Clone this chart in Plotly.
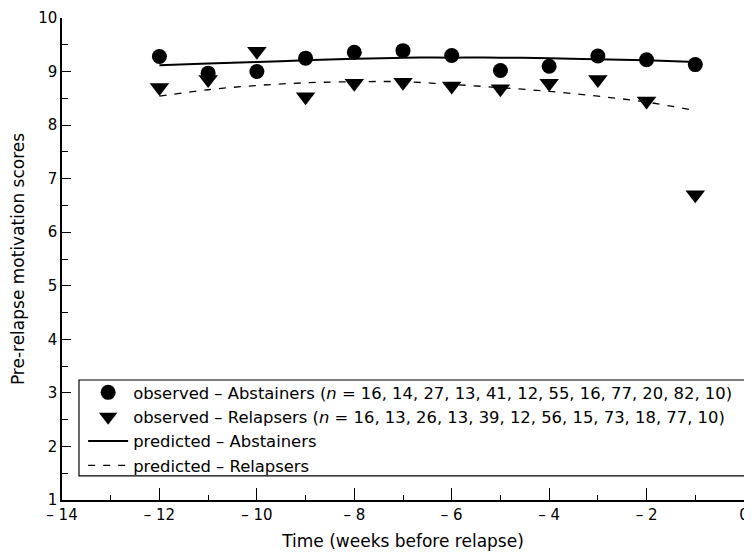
import plotly.graph_objects as go

weeks = [-12, -11, -10, -9, -8, -7, -6, -5, -4, -3, -2, -1]
obs_abstainers = [9.28, 8.97, 9.00, 9.25, 9.36, 9.39, 9.30, 9.02, 9.10, 9.29, 9.22, 9.13]
obs_relapsers = [8.70, 8.85, 9.38, 8.53, 8.78, 8.80, 8.73, 8.68, 8.78, 8.85, 8.45, 6.70]
pred_abstainers = [9.12, 9.15, 9.18, 9.21, 9.24, 9.26, 9.26, 9.26, 9.25, 9.23, 9.21, 9.18]
pred_relapsers = [8.54, 8.66, 8.74, 8.79, 8.81, 8.81, 8.76, 8.70, 8.63, 8.54, 8.43, 8.27]
n_abstainers = [16, 14, 27, 13, 41, 12, 55, 16, 77, 20, 82, 10]
n_relapsers = [16, 13, 26, 13, 39, 12, 56, 15, 73, 18, 77, 10]
x_tickvals = [-14, -12, -10, -8, -6, -4, -2, 0]
x_ticktext = ["\u2013 14", "\u2013 12", "\u2013 10", "\u2013 8", "\u2013 6", "\u2013 4", "\u2013 2", "0"]
y_tickvals = [1, 2, 3, 4, 5, 6, 7, 8, 9, 10]

fig = go.Figure()
fig.add_trace(go.Scatter(
    x=weeks, y=obs_abstainers, mode="markers",
    marker=dict(symbol="circle", size=15, color="black"),
    name="observed \u2013 Abstainers (<i>n</i> = " + ", ".join(str(v) for v in n_abstainers) + ")"))
fig.add_trace(go.Scatter(
    x=weeks, y=obs_relapsers, mode="markers",
    marker=dict(symbol="triangle-down", size=17, color="black"),
    name="observed \u2013 Relapsers (<i>n</i> = " + ", ".join(str(v) for v in n_relapsers) + ")"))
fig.add_trace(go.Scatter(
    x=weeks, y=pred_abstainers, mode="lines",
    line=dict(color="black", width=2, shape="spline"),
    name="predicted \u2013 Abstainers"))
fig.add_trace(go.Scatter(
    x=weeks, y=pred_relapsers, mode="lines",
    line=dict(color="black", width=1.3, dash="7px,8px", shape="spline"),
    name="predicted \u2013 Relapsers"))

# legend frame (drawn as a paper-referenced rectangle)
fig.add_shape(type="rect", xref="paper", yref="paper",
              x0=0.0249, x1=1.0015, y0=0.050, y1=0.249,
              line=dict(color="black", width=1.2), fillcolor="rgba(0,0,0,0)", layer="above")

font = "DejaVu Sans, sans-serif"
fig.update_layout(
    width=744, height=545,
    margin=dict(l=54, r=8, t=10, b=53, autoexpand=False),
    paper_bgcolor="white", plot_bgcolor="white",
    font=dict(family=font, size=15, color="black"),
    showlegend=True,
    legend=dict(x=0.031, y=0.259, xanchor="left", yanchor="top",
                borderwidth=0, bgcolor="rgba(255,255,255,0)",
                font=dict(size=16.4), tracegroupgap=0, itemwidth=40),
    xaxis=dict(range=[-14, 0], tickvals=x_tickvals, ticktext=x_ticktext, automargin=False,
               showgrid=False, zeroline=False, showline=True, linecolor="black", linewidth=1.5,
               ticks="inside", ticklen=12, tickcolor="black", tickwidth=1,
               minor=dict(dtick=1, ticks="inside", ticklen=5, tickcolor="black", showgrid=False),
               title=dict(text="Time (weeks before relapse)", font=dict(size=17), standoff=12),
               tickfont=dict(size=15)),
    yaxis=dict(range=[1, 10], tickvals=y_tickvals, automargin=False,
               showgrid=False, zeroline=False, showline=True, linecolor="black", linewidth=1.5,
               ticks="inside", ticklen=9, tickcolor="black", tickwidth=1,
               minor=dict(dtick=0.5, ticks="inside", ticklen=6, tickcolor="black", showgrid=False),
               title=dict(text="Pre-relapse motivation scores", font=dict(size=17), standoff=11),
               tickfont=dict(size=15)),
)
fig.write_html("out.html")
